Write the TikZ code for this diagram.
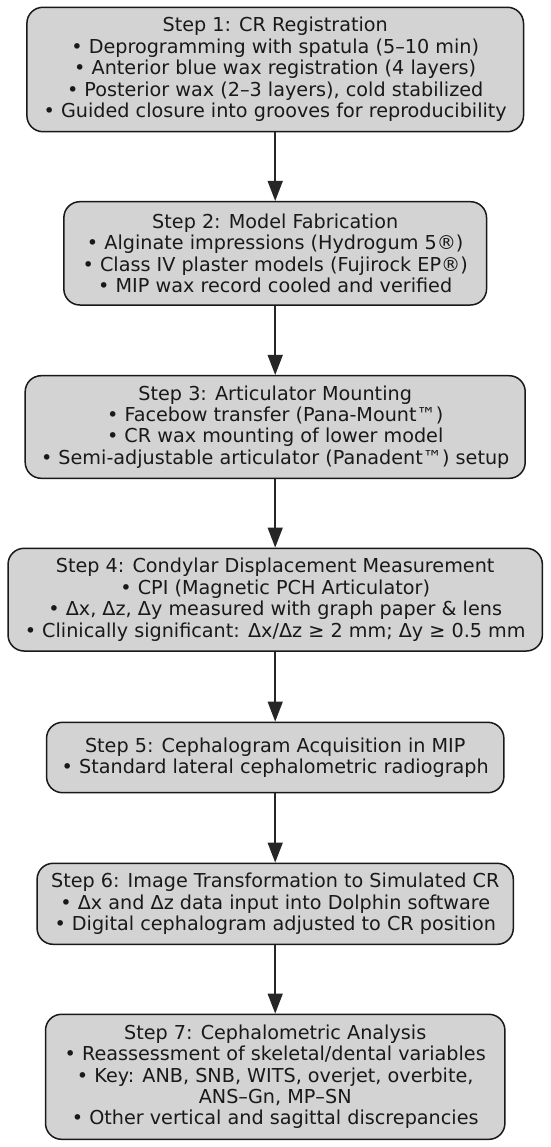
\documentclass[tikz,border=0pt]{standalone}
\usepackage{fontspec}
\setmainfont{DejaVu Sans}
\usetikzlibrary{arrows.meta}
\definecolor{boxgray}{HTML}{D3D3D3}
\begin{document}
\begin{tikzpicture}[x=1pt,y=-1pt,
  stepbox/.style={draw=black!90, fill=boxgray, line width=1.5pt, rounded corners=16pt,
    align=center, inner sep=0pt, text=black!90, font=\fontsize{19.2}{21.4}\selectfont},
  flow/.style={-{Triangle[length=20pt,width=15pt]}, line width=1.5pt, draw=black!85}]
\fill[white] (0,0) rectangle (550,1147);
\useasboundingbox (0,0) rectangle (550,1147);

\node[stepbox, minimum width=496.6pt, minimum height=124.4pt] (s1) at (275.2,69.5)
  {Step 1: CR Registration\\• Deprogramming with spatula (5–10 min)\\• Anterior blue wax registration (4 layers)\\• Posterior wax (2–3 layers), cold stabilized\\• Guided closure into grooves for reproducibility};

\node[stepbox, minimum width=422.7pt, minimum height=103.3pt] (s2) at (275.2,253.35)
  {Step 2: Model Fabrication\\• Alginate impressions (Hydrogum 5®)\\• Class IV plaster models (Fujirock EP®)\\• MIP wax record cooled and verified};

\node[stepbox, minimum width=500pt, minimum height=102.6pt] (s3) at (275.2,427)
  {Step 3: Articulator Mounting\\• Facebow transfer (Pana-Mount™)\\• CR wax mounting of lower model\\• Semi-adjustable articulator (Panadent™) setup};

\node[stepbox, minimum width=534.3pt, minimum height=102.7pt] (s4) at (275.2,599.65)
  {Step 4: Condylar Displacement Measurement\\• CPI (Magnetic PCH Articulator)\\• Δx, Δz, Δy measured with graph paper \& lens\\• Clinically significant: Δx/Δz ≥ 2 mm; Δy ≥ 0.5 mm};

\node[stepbox, minimum width=457.3pt, minimum height=70.4pt] (s5) at (275.2,757.5)
  {Step 5: Cephalogram Acquisition in MIP\\• Standard lateral cephalometric radiograph};

\node[stepbox, minimum width=476.2pt, minimum height=81pt] (s6) at (275.2,903.8)
  {Step 6: Image Transformation to Simulated CR\\• Δx and Δz data input into Dolphin software\\• Digital cephalogram adjusted to CR position};

\node[stepbox, minimum width=459.4pt, minimum height=125pt] (s7) at (275.2,1076.8)
  {Step 7: Cephalometric Analysis\\• Reassessment of skeletal/dental variables\\• Key: ANB, SNB, WITS, overjet, overbite,\\ANS–Gn, MP–SN\\• Other vertical and sagittal discrepancies};

\draw[flow] (s1) -- (s2);
\draw[flow] (s2) -- (s3);
\draw[flow] (s3) -- (s4);
\draw[flow] (s4) -- (s5);
\draw[flow] (s5) -- (s6);
\draw[flow] (s6) -- (s7);
\end{tikzpicture}
\end{document}
